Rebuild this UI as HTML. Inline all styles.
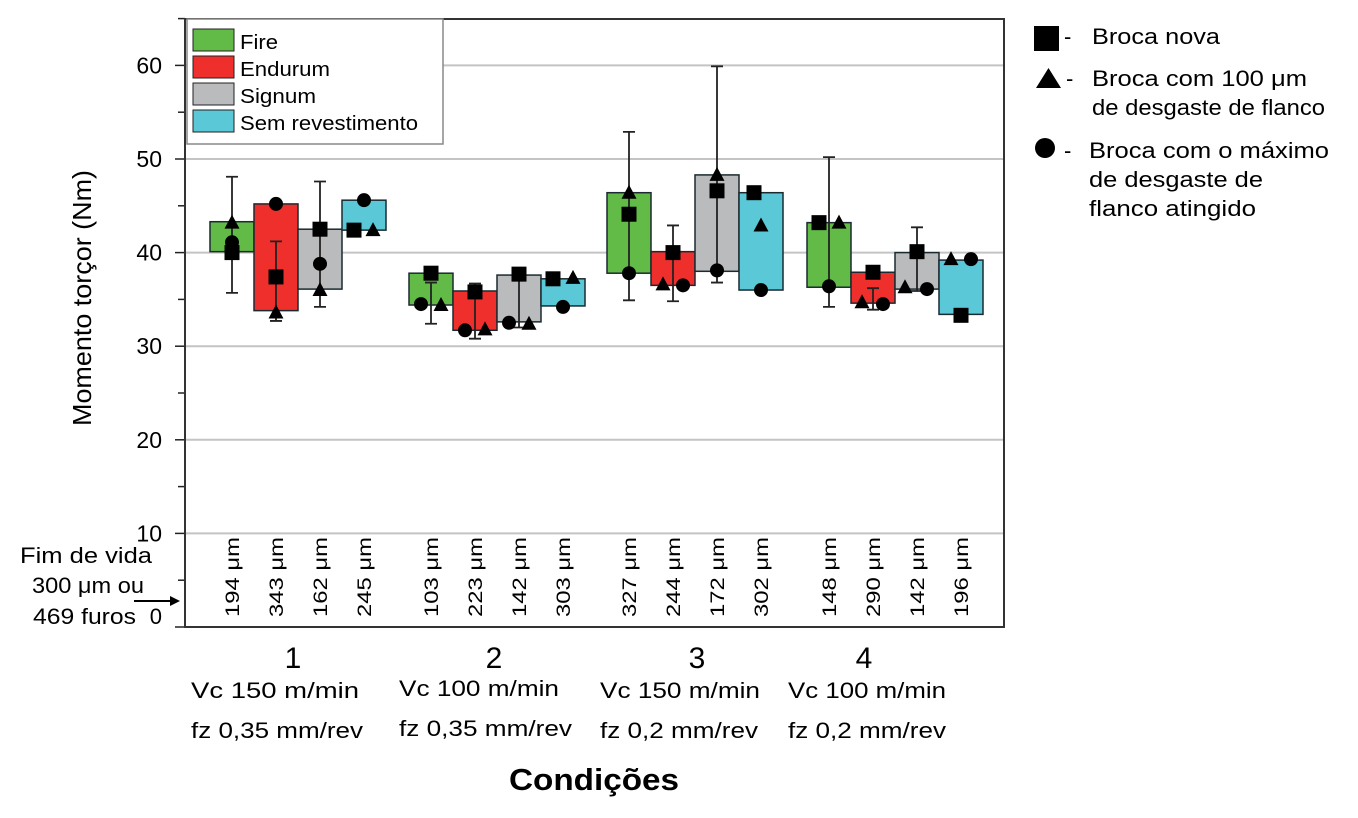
<!DOCTYPE html>
<html><head><meta charset="utf-8"><style>
body{margin:0;background:#fff;}
svg{display:block;font-family:"Liberation Sans",sans-serif;}
</style></head><body>
<svg id="chart" width="1358" height="818" viewBox="0 0 1358 818">
<g id="grid"></g>
<g id="bars"></g>
<g id="axes"></g>
<g id="legend">
<rect x="187" y="19" width="256" height="125" fill="#fff" stroke="#888" stroke-width="1.5"/>
<rect x="193" y="29" width="41" height="22" fill="#62bb46" stroke="#222"/>
<text x="240" y="49" font-size="20" textLength="38" lengthAdjust="spacingAndGlyphs">Fire</text>
<rect x="193" y="56" width="41" height="22" fill="#ee2f2c" stroke="#222"/>
<text x="240" y="76" font-size="20" textLength="90" lengthAdjust="spacingAndGlyphs">Endurum</text>
<rect x="193" y="83" width="41" height="22" fill="#babbbd" stroke="#222"/>
<text x="240" y="103" font-size="20" textLength="76" lengthAdjust="spacingAndGlyphs">Signum</text>
<rect x="193" y="110" width="41" height="22" fill="#5bc8d8" stroke="#222"/>
<text x="240" y="130" font-size="20" textLength="178" lengthAdjust="spacingAndGlyphs">Sem revestimento</text>
</g>
<g font-size="22">
<rect x="1034" y="26" width="25" height="25" fill="#000"/>
<text x="1064" y="44">-</text>
<text x="1092" y="44" textLength="128" lengthAdjust="spacingAndGlyphs">Broca nova</text>
<polygon points="1036,88 1061,88 1048.5,68" fill="#000"/>
<text x="1066" y="86">-</text>
<text x="1092" y="86" textLength="215" lengthAdjust="spacingAndGlyphs">Broca com 100 μm</text>
<text x="1092" y="115" textLength="233" lengthAdjust="spacingAndGlyphs">de desgaste de flanco</text>
<circle cx="1045" cy="148" r="10" fill="#000"/>
<text x="1064" y="158">-</text>
<text x="1089" y="158" textLength="240" lengthAdjust="spacingAndGlyphs">Broca com o máximo</text>
<text x="1089" y="187" textLength="174" lengthAdjust="spacingAndGlyphs">de desgaste de</text>
<text x="1089" y="216" textLength="167" lengthAdjust="spacingAndGlyphs">flanco atingido</text>
</g>
<text transform="translate(91,298) rotate(-90)" text-anchor="middle" font-size="26" textLength="256" lengthAdjust="spacingAndGlyphs">Momento torçor (Nm)</text>
<g font-size="22">
<text x="152" y="563" text-anchor="end" textLength="132" lengthAdjust="spacingAndGlyphs">Fim de vida</text>
<text x="144" y="593" text-anchor="end" textLength="112" lengthAdjust="spacingAndGlyphs">300 μm ou</text>
<text x="136" y="624" text-anchor="end" textLength="103" lengthAdjust="spacingAndGlyphs">469 furos</text>
<text x="162" y="624" text-anchor="end">0</text>
<line x1="134" y1="601" x2="172" y2="601" stroke="#000" stroke-width="2"/>
<polygon points="180,601 170,596 170,606" fill="#000"/>
</g>
<g id="xlabels"></g>
<text x="594" y="790" text-anchor="middle" font-size="31" font-weight="bold" textLength="170" lengthAdjust="spacingAndGlyphs">Condições</text>
</svg>
<script>
const conditions = ["1","2","3","4"];
const condLine1 = ["Vc 150 m/min","Vc 100 m/min","Vc 150 m/min","Vc 100 m/min"];
const condLine2 = ["fz 0,35 mm/rev","fz 0,35 mm/rev","fz 0,2 mm/rev","fz 0,2 mm/rev"];
const coatings = ["fire","endurum","signum","sem"];
const colors = ["#62bb46","#ee2f2c","#babbbd","#5bc8d8"];
const boxTop = [43.3,45.2,42.5,45.6, 37.8,35.9,37.6,37.2, 46.4,40.1,48.3,46.4, 43.2,37.9,40.0,39.2];
const boxBottom = [40.1,33.8,36.1,42.4, 34.4,31.7,32.6,34.3, 37.8,36.5,38.0,36.0, 36.3,34.6,36.1,33.4];
const whiskerHigh = [48.1,41.2,47.6,null, 36.8,36.7,38.2,null, 52.9,42.9,59.9,null, 50.2,36.2,42.7,null];
const whiskerLow = [35.7,32.7,34.2,null, 32.4,30.8,32.0,null, 34.9,34.8,36.8,null, 34.2,33.9,35.9,null];
const squareVal = [40.0,37.4,42.5,42.4, 37.8,35.8,37.7,37.2, 44.1,40.0,46.6,46.4, 43.2,37.9,40.1,33.3];
const triangleVal = [43.2,33.6,36.0,42.4, 34.4,31.8,32.4,37.3, 46.4,36.6,48.3,42.9, 43.2,34.7,36.3,39.3];
const circleVal = [41.1,45.2,38.8,45.6, 34.5,31.7,32.5,34.2, 37.8,36.5,38.1,36.0, 36.4,34.5,36.1,39.3];
const wearLabels = ["194 μm","343 μm","162 μm","245 μm","103 μm","223 μm","142 μm","303 μm","327 μm","244 μm","172 μm","302 μm","148 μm","290 μm","142 μm","196 μm"];
const yTicks = [10,20,30,40,50,60];

// layout (not data)
const groupStart = [210,409,607,807];
const boxW = 44;
const sqDx = [0,0,0,-10, 0,0,0,-10, 0,0,0,-7, -10,0,0,0];
const trDx = [0,0,0,9, 10,10,10,10, 0,-10,0,0, 10,-11,-12,-10];
const ciDx = [0,0,0,0, -10,-10,-10,0, 0,10,0,0, 0,10,10,10];

const NS="http://www.w3.org/2000/svg";
const yOf = v => 627 - 9.36*v;
function mk(tag, attrs, parent){const e=document.createElementNS(NS,tag);for(const k in attrs)e.setAttribute(k,attrs[k]);parent.appendChild(e);return e;}
const grid=document.getElementById('grid'), bars=document.getElementById('bars'), axes=document.getElementById('axes'), xl=document.getElementById('xlabels');

yTicks.forEach(t=>{
  const g=mk('line',{x1:185,x2:1004,y1:yOf(t),y2:yOf(t),stroke:'#c4c4c4','stroke-width':2},grid);
  
  
  const tx=mk('text',{x:162,y:yOf(t)+8,'text-anchor':'end','font-size':23},axes);
  tx.textContent=t;
  
  
});
for(let v=0; v<=65; v+=5){
  const len = (v%10===0)?10:7;
  const tk=mk('line',{x1:185-len,x2:185,y1:yOf(v),y2:yOf(v),stroke:'#222','stroke-width':1.5},axes);
  
  
}
const ax=mk('path',{d:'M185,19 L1004,19 L1004,627 L185,627 Z',fill:'none',stroke:'#333','stroke-width':2},axes);



for(let i=0;i<16;i++){
  const g=Math.floor(i/4), c=i%4;
  const x=groupStart[g]+c*boxW, cx=x+boxW/2;
  const r=mk('rect',{x:x,y:yOf(boxTop[i]),width:boxW,height:yOf(boxBottom[i])-yOf(boxTop[i]),fill:colors[c],stroke:'#1a2a30','stroke-width':1.5},bars);
  
  
  if(whiskerHigh[i]!==null){
    const w=mk('path',{d:`M${cx},${yOf(whiskerHigh[i])} V${yOf(whiskerLow[i])} M${cx-6},${yOf(whiskerHigh[i])} h12 M${cx-6},${yOf(whiskerLow[i])} h12`,stroke:'#222','stroke-width':1.8,fill:'none'},bars);
    
    
  }
  const s=mk('rect',{x:cx+sqDx[i]-7.5,y:yOf(squareVal[i])-7.5,width:15,height:15,fill:'#000'},bars);
  
  
  const tx=cx+trDx[i], ty=yOf(triangleVal[i]);
  const tr=mk('polygon',{points:`${tx-7.5},${ty+6} ${tx+7.5},${ty+6} ${tx},${ty-8}`,fill:'#000'},bars);
  
  
  const ci=mk('circle',{cx:cx+ciDx[i],cy:yOf(circleVal[i]),r:7,fill:'#000'},bars);
  
  
  const wl=mk('text',{transform:`translate(${cx+7},${577}) rotate(-90)`,'text-anchor':'middle','font-size':19,textLength:80,lengthAdjust:'spacingAndGlyphs'},xl);
  wl.textContent=wearLabels[i];
  
  
}
const lx=[[293,191],[494,399],[697,600],[864,788]];
const w1=[168,160,160,158], w2=[172,173,158,158];
conditions.forEach((c,g)=>{
  const t=mk('text',{x:lx[g][0],y:668,'text-anchor':'middle','font-size':30},xl);
  t.textContent=c;
  
  
  const yo = g===1?-2:0;
  const a=mk('text',{x:lx[g][1],y:698+yo,'font-size':22,textLength:w1[g],lengthAdjust:'spacingAndGlyphs'},xl);
  a.textContent=condLine1[g];
  
  
  const b=mk('text',{x:lx[g][1],y:738+yo,'font-size':22,textLength:w2[g],lengthAdjust:'spacingAndGlyphs'},xl);
  b.textContent=condLine2[g];
  
  
});
</script>
</body></html>
